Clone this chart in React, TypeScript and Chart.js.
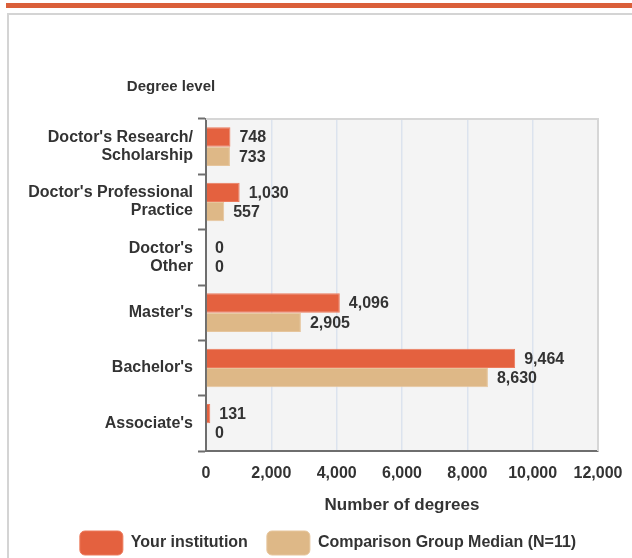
import React, { useEffect, useRef } from "react";
import { Chart, registerables } from "chart.js";

Chart.register(...registerables);

const categories: (string | string[])[] = [
  ["Doctor's Research/", "Scholarship"],
  ["Doctor's Professional", "Practice"],
  ["Doctor's", "Other"],
  "Master's",
  "Bachelor's",
  "Associate's",
];
const yourInstitution = [748, 1030, 0, 4096, 9464, 131];
const comparisonMedian = [733, 557, 0, 2905, 8630, 0];
const seriesNames = ["Your institution", "Comparison Group Median (N=11)"];
const xMin = 0;
const xMax = 12000;
const xStep = 2000;
const yTitle = "Degree level";
const xTitle = "Number of degrees";

const FONT = "Arial, 'Liberation Sans', sans-serif";
const TEXT = "#333333";
const ORANGE = "#E4613F";
const TAN = "#DEB887";

const plotPlugin = {
  id: "plotDecor",
  beforeDraw(chart: any) {
    const { ctx, chartArea: a } = chart;
    ctx.save();
    ctx.fillStyle = "#F4F4F4";
    ctx.fillRect(a.left, a.top, a.right - a.left, a.bottom - a.top);
    ctx.restore();
  },
  beforeDatasetsDraw(chart: any) {
    const { ctx, chartArea: a } = chart;
    ctx.save();
    ctx.strokeStyle = "#D6D6D6";
    ctx.lineWidth = 2;
    ctx.beginPath();
    ctx.moveTo(a.left, a.top);
    ctx.lineTo(a.right, a.top);
    ctx.lineTo(a.right, a.bottom);
    ctx.stroke();
    ctx.restore();
  },
  afterDatasetsDraw(chart: any) {
    const { ctx, chartArea: a } = chart;
    ctx.save();
    ctx.font = `bold 16px ${FONT}`;
    ctx.fillStyle = TEXT;
    ctx.textAlign = "left";
    ctx.textBaseline = "middle";
    chart.data.datasets.forEach((ds: any, di: number) => {
      const meta = chart.getDatasetMeta(di);
      meta.data.forEach((el: any, i: number) => {
        const v = ds.data[i] as number;
        ctx.fillText(v.toLocaleString("en-US"), el.x + 9, el.y + 1);
      });
    });
    ctx.font = `bold 15px ${FONT}`;
    ctx.textAlign = "center";
    ctx.fillText(yTitle, a.left - 35, a.top - 32);
    ctx.restore();
  },
};

export default function App() {
  const ref = useRef<HTMLCanvasElement>(null);
  useEffect(() => {
    const chart = new Chart(ref.current!, {
      type: "bar",
      data: {
        labels: categories,
        datasets: [
          {
            label: seriesNames[0],
            data: yourInstitution,
            backgroundColor: ORANGE,
            borderColor: "#EC7A5C",
            borderWidth: 1,
            borderSkipped: "start",
          },
          {
            label: seriesNames[1],
            data: comparisonMedian,
            backgroundColor: TAN,
            borderColor: "#E6C59C",
            borderWidth: 1,
            borderSkipped: "start",
          },
        ],
      },
      plugins: [plotPlugin],
      options: {
        indexAxis: "y",
        responsive: false,
        animation: false,
        devicePixelRatio: 1,
        layout: { padding: { top: 59, left: 0, right: 0, bottom: 0 } },
        datasets: { bar: { categoryPercentage: 0.7, barPercentage: 1.0 } },
        plugins: {
          tooltip: { enabled: false },
          legend: {
            position: "bottom",
            align: "center",
            labels: {
              boxWidth: 43,
              boxHeight: 24,
              useBorderRadius: true,
              borderRadius: 5,
              padding: 19,
              color: TEXT,
              font: { family: FONT, size: 16, weight: "bold" },
            },
          },
        },
        scales: {
          x: {
            type: "linear",
            position: "bottom",
            min: xMin,
            max: xMax,
            afterFit: (s: any) => {
              s.height = 61;
              s.paddingRight = 34;
            },
            ticks: {
              stepSize: xStep,
              padding: 13,
              color: TEXT,
              font: { family: FONT, size: 16, weight: "bold" },
              callback: (v: any) => Number(v).toLocaleString("en-US"),
            },
            grid: {
              color: "#DCE3EE",
              lineWidth: 1.5,
              drawTicks: false,
            },
            border: { display: true, color: "#6E6E6E", width: 2 },
            title: {
              display: true,
              text: xTitle,
              color: TEXT,
              font: { family: FONT, size: 17, weight: "bold", lineHeight: 0.8 },
              padding: { top: 0, bottom: 0 },
            },
          },
          y: {
            type: "category",
            afterFit: (s: any) => {
              s.width = 182;
            },
            ticks: {
              padding: 5,
              color: TEXT,
              font: { family: FONT, size: 16, weight: "bold", lineHeight: 1.13 },
            },
            grid: {
              offset: true,
              drawOnChartArea: false,
              drawTicks: true,
              tickLength: 8,
              tickColor: "#6E6E6E",
              tickWidth: 2,
            },
            border: { display: true, color: "#6E6E6E", width: 2 },
          },
        },
      },
    } as any);
    return () => chart.destroy();
  }, []);

  return (
    <div style={{ position: "fixed", inset: 0, background: "#FFFFFF", overflow: "hidden" }}>
      <div
        style={{
          position: "absolute",
          left: 6,
          top: 3,
          width: 640,
          height: 5,
          background: "#DA5F3A",
        }}
      />
      <div
        style={{
          position: "absolute",
          left: 7,
          top: 13,
          width: 660,
          height: 600,
          borderLeft: "2px solid #D4D4D4",
          borderTop: "2px solid #D4D4D4",
          boxSizing: "border-box",
        }}
      />
      <canvas
        ref={ref}
        width={608}
        height={505}
        style={{ position: "absolute", left: 24, top: 60, display: "block" }}
      />
    </div>
  );
}
